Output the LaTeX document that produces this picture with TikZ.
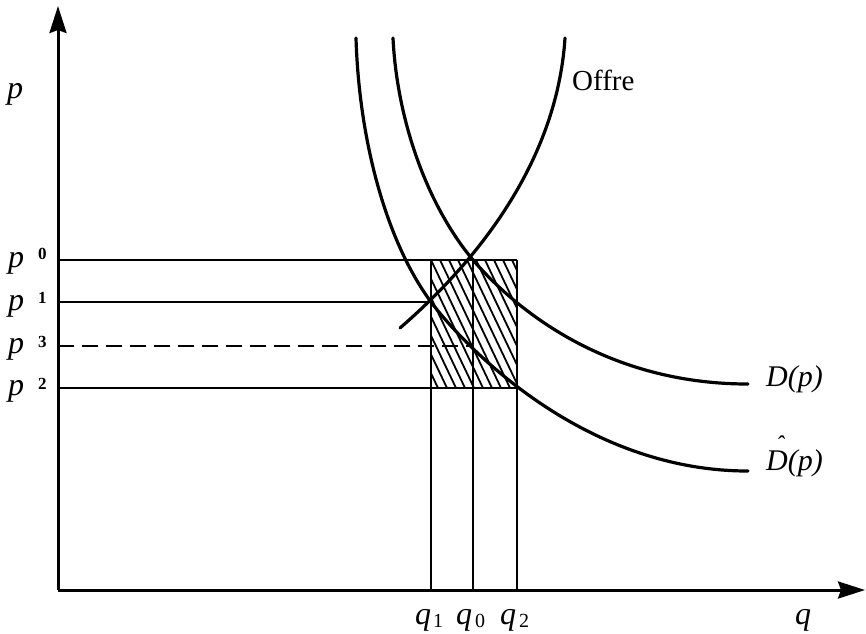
\documentclass[tikz,border=0pt]{standalone}
\usepackage{fontspec}
\setmainfont{Liberation Serif}
\usetikzlibrary{arrows.meta}
\newcommand{\hatD}{\ooalign{D\cr\hidewidth\kern0.2em\raisebox{0.6em}{\fontsize{24}{24}\selectfont\char"02C6}\hidewidth\cr}}
\begin{document}
\begin{tikzpicture}[x=1pt,y=-1pt,
  axis/.style={line width=3pt,-{Stealth[length=27pt,width=17pt,inset=3pt]}},
  lin/.style={line width=2.8pt},
  dashline/.style={line width=2.8pt,dash pattern=on 16pt off 8pt},
  curve/.style={line width=3.2pt,line cap=round},
  hatch/.style={line width=1.8pt},
  big/.style={font=\fontsize{32}{33}\selectfont\itshape,inner sep=0pt},
  lab/.style={font=\fontsize{30}{31}\selectfont\itshape,inner sep=0pt},
  roman/.style={font=\fontsize{29}{30}\selectfont,inner sep=0pt},
  psub/.style={font=\fontsize{17}{17}\selectfont\bfseries,inner sep=0pt},
  qsub/.style={font=\fontsize{20}{20}\selectfont,inner sep=0pt}]
\useasboundingbox (0,0) rectangle (866,633);
% coordinates
\coordinate (O) at (58,590);
\coordinate (Ytop) at (58,6);
\coordinate (Xend) at (865,590);
\coordinate (P0) at (58,260);
\coordinate (P1) at (58,302);
\coordinate (P3) at (58,346);
\coordinate (P2) at (58,388);
\coordinate (A0) at (431,260);
\coordinate (B0) at (473,260);
\coordinate (C0) at (517,260);
\coordinate (A1) at (431,302);
\coordinate (B3) at (470,346);
\coordinate (C2) at (517,388);
\coordinate (Q1) at (431,590);
\coordinate (Q0) at (473,590);
\coordinate (Q2) at (517,590);
\coordinate (Sa) at (400,328);
\coordinate (Sb) at (565,38);
\coordinate (Da) at (393,38);
\coordinate (Db) at (748,384);
\coordinate (Ea) at (356,38);
\coordinate (Eb) at (748,471);
% hatching
\begin{scope}
\clip (431,260) rectangle (517,388);
\foreach \i in {-72,-63,...,90} \draw[hatch] (431+\i,260) -- (492+\i,388);
\end{scope}
% lines
\draw[lin] (P0) -- (C0);
\draw[lin] (P1) -- (A1);
\draw[dashline] (P3) -- (B3);
\draw[lin] (P2) -- (C2);
\draw[lin] (A0) -- (Q1);
\draw[lin] (B0) -- (Q0);
\draw[lin] (C0) -- (Q2);
% axes
\draw[axis] (O) -- (Ytop);
\draw[axis] (O) -- (Xend);
% curves
\draw[curve] (Sa) .. controls (460,276) and (556,175) .. (Sb);
\draw[curve] (Da) .. controls (397,120) and (427,205) .. (B0)
                  .. controls (510,303) and (600,384) .. (Db);
\draw[curve] (Ea) .. controls (359,140) and (386,241) .. (A1)
                  .. controls (461,342) and (580,471) .. (Eb);
% labels
\node[big,anchor=base west] (lp) at (7,98) {p};
\node[big,anchor=base west] (lp0) at (8,267) {p};
\node[psub,anchor=base west] (s0) at (38,259) {0};
\node[big,anchor=base west] (lp1) at (8,310) {p};
\node[psub,anchor=base west] (s1) at (38,303) {1};
\node[big,anchor=base west] (lp3) at (8,353) {p};
\node[psub,anchor=base west] (s3) at (38,347) {3};
\node[big,anchor=base west] (lp2) at (8,395) {p};
\node[psub,anchor=base west] (s2) at (38,389) {2};
\node[big,anchor=base west] (lq1) at (415,624) {q};
\node[qsub,anchor=base west] (t1) at (433,627) {1};
\node[big,anchor=base west] (lq0) at (456,624) {q};
\node[qsub,anchor=base west] (t0) at (475,627) {0};
\node[big,anchor=base west] (lq2) at (500,624) {q};
\node[qsub,anchor=base west] (t2) at (519,627) {2};
\node[big,anchor=base west] (lq) at (795,624) {q};
\node[roman,anchor=base west] (offre) at (572,90) {Offre};
\node[lab,anchor=base west] (dp) at (766,386) {D(p)};
\node[lab,anchor=base west] (dhp) at (766,470) {\hatD(p)};
\end{tikzpicture}
\end{document}
